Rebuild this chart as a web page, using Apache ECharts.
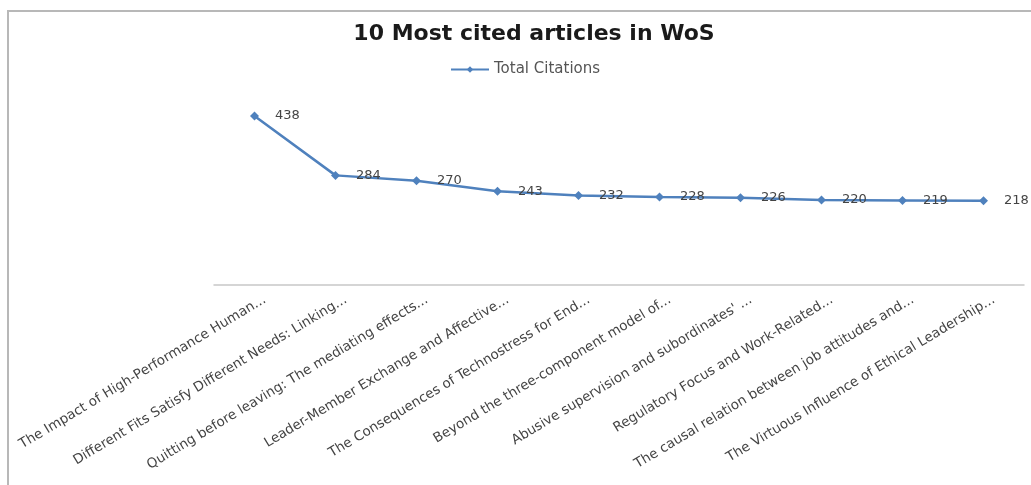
<!DOCTYPE html>
<html>
<head>
<meta charset="utf-8">
<script src="https://cdn.jsdelivr.net/npm/echarts@6/dist/echarts.min.js"></script>
<style>
  html, body { margin: 0; padding: 0; background: #fff; }
  #chart { width: 1031px; height: 485px; }
</style>
</head>
<body>
<div id="chart"></div>
<script>
// Ten most cited articles (shortened titles) and their citation counts
const articles = [
  'The Impact of High-Performance Human...',
  'Different Fits Satisfy Different Needs: Linking...',
  'Quitting before leaving: The mediating effects...',
  'Leader-Member Exchange and Affective...',
  'The Consequences of Technostress for End...',
  'Beyond the three-component model of...',
  "Abusive supervision and subordinates' ...",
  'Regulatory Focus and Work-Related...',
  'The causal relation between job attitudes and...',
  'The Virtuous Influence of Ethical Leadership...'
];
const totalCitations = [438, 284, 270, 243, 232, 228, 226, 220, 219, 218];

const FONT = 'DejaVu Sans';

const chart = echarts.init(document.getElementById('chart'));
chart.setOption({
  backgroundColor: '#ffffff',
  animation: false,
  title: {
    text: '10 Most cited articles in WoS',
    left: 529,
    top: 18,
    textAlign: 'center',
    textStyle: { fontFamily: FONT, fontWeight: 'bold', fontSize: 22, color: '#1a1a1a' }
  },
  legend: {
    data: ['Total Citations'],
    left: 445,
    top: 57,
    itemWidth: 38,
    itemHeight: 8,
    itemGap: 2,
    textStyle: { fontFamily: FONT, fontSize: 15, color: '#555' }
  },
  graphic: [
    { type: 'line', shape: { x1: 7, y1: 11, x2: 1031, y2: 11 }, style: { stroke: '#b8b8b8', lineWidth: 2 } },
    { type: 'line', shape: { x1: 8, y1: 11, x2: 8, y2: 485 }, style: { stroke: '#b8b8b8', lineWidth: 2 } }
  ],
  grid: { left: 214, right: 7, top: 92, bottom: 200, containLabel: false },
  xAxis: {
    type: 'category',
    data: articles,
    boundaryGap: true,
    axisLine: { lineStyle: { color: '#c8c8c8', width: 1.5 } },
    axisTick: { show: false },
    axisLabel: {
      interval: 0,
      rotate: 31,
      margin: 20,
      padding: [0, -12, 0, 0],
      fontFamily: FONT,
      fontSize: 13.5,
      color: '#444'
    }
  },
  yAxis: {
    type: 'value',
    min: 0,
    max: 500,
    interval: 100,
    show: false
  },
  series: [{
    name: 'Total Citations',
    type: 'line',
    data: totalCitations,
    symbol: 'diamond',
    symbolSize: 9,
    lineStyle: { color: '#4f81bd', width: 2.5 },
    itemStyle: { color: '#4f81bd' },
    label: {
      show: true,
      position: 'right',
      distance: 16,
      fontFamily: FONT,
      fontSize: 13,
      color: '#444'
    }
  }]
});
</script>
</body>
</html>
